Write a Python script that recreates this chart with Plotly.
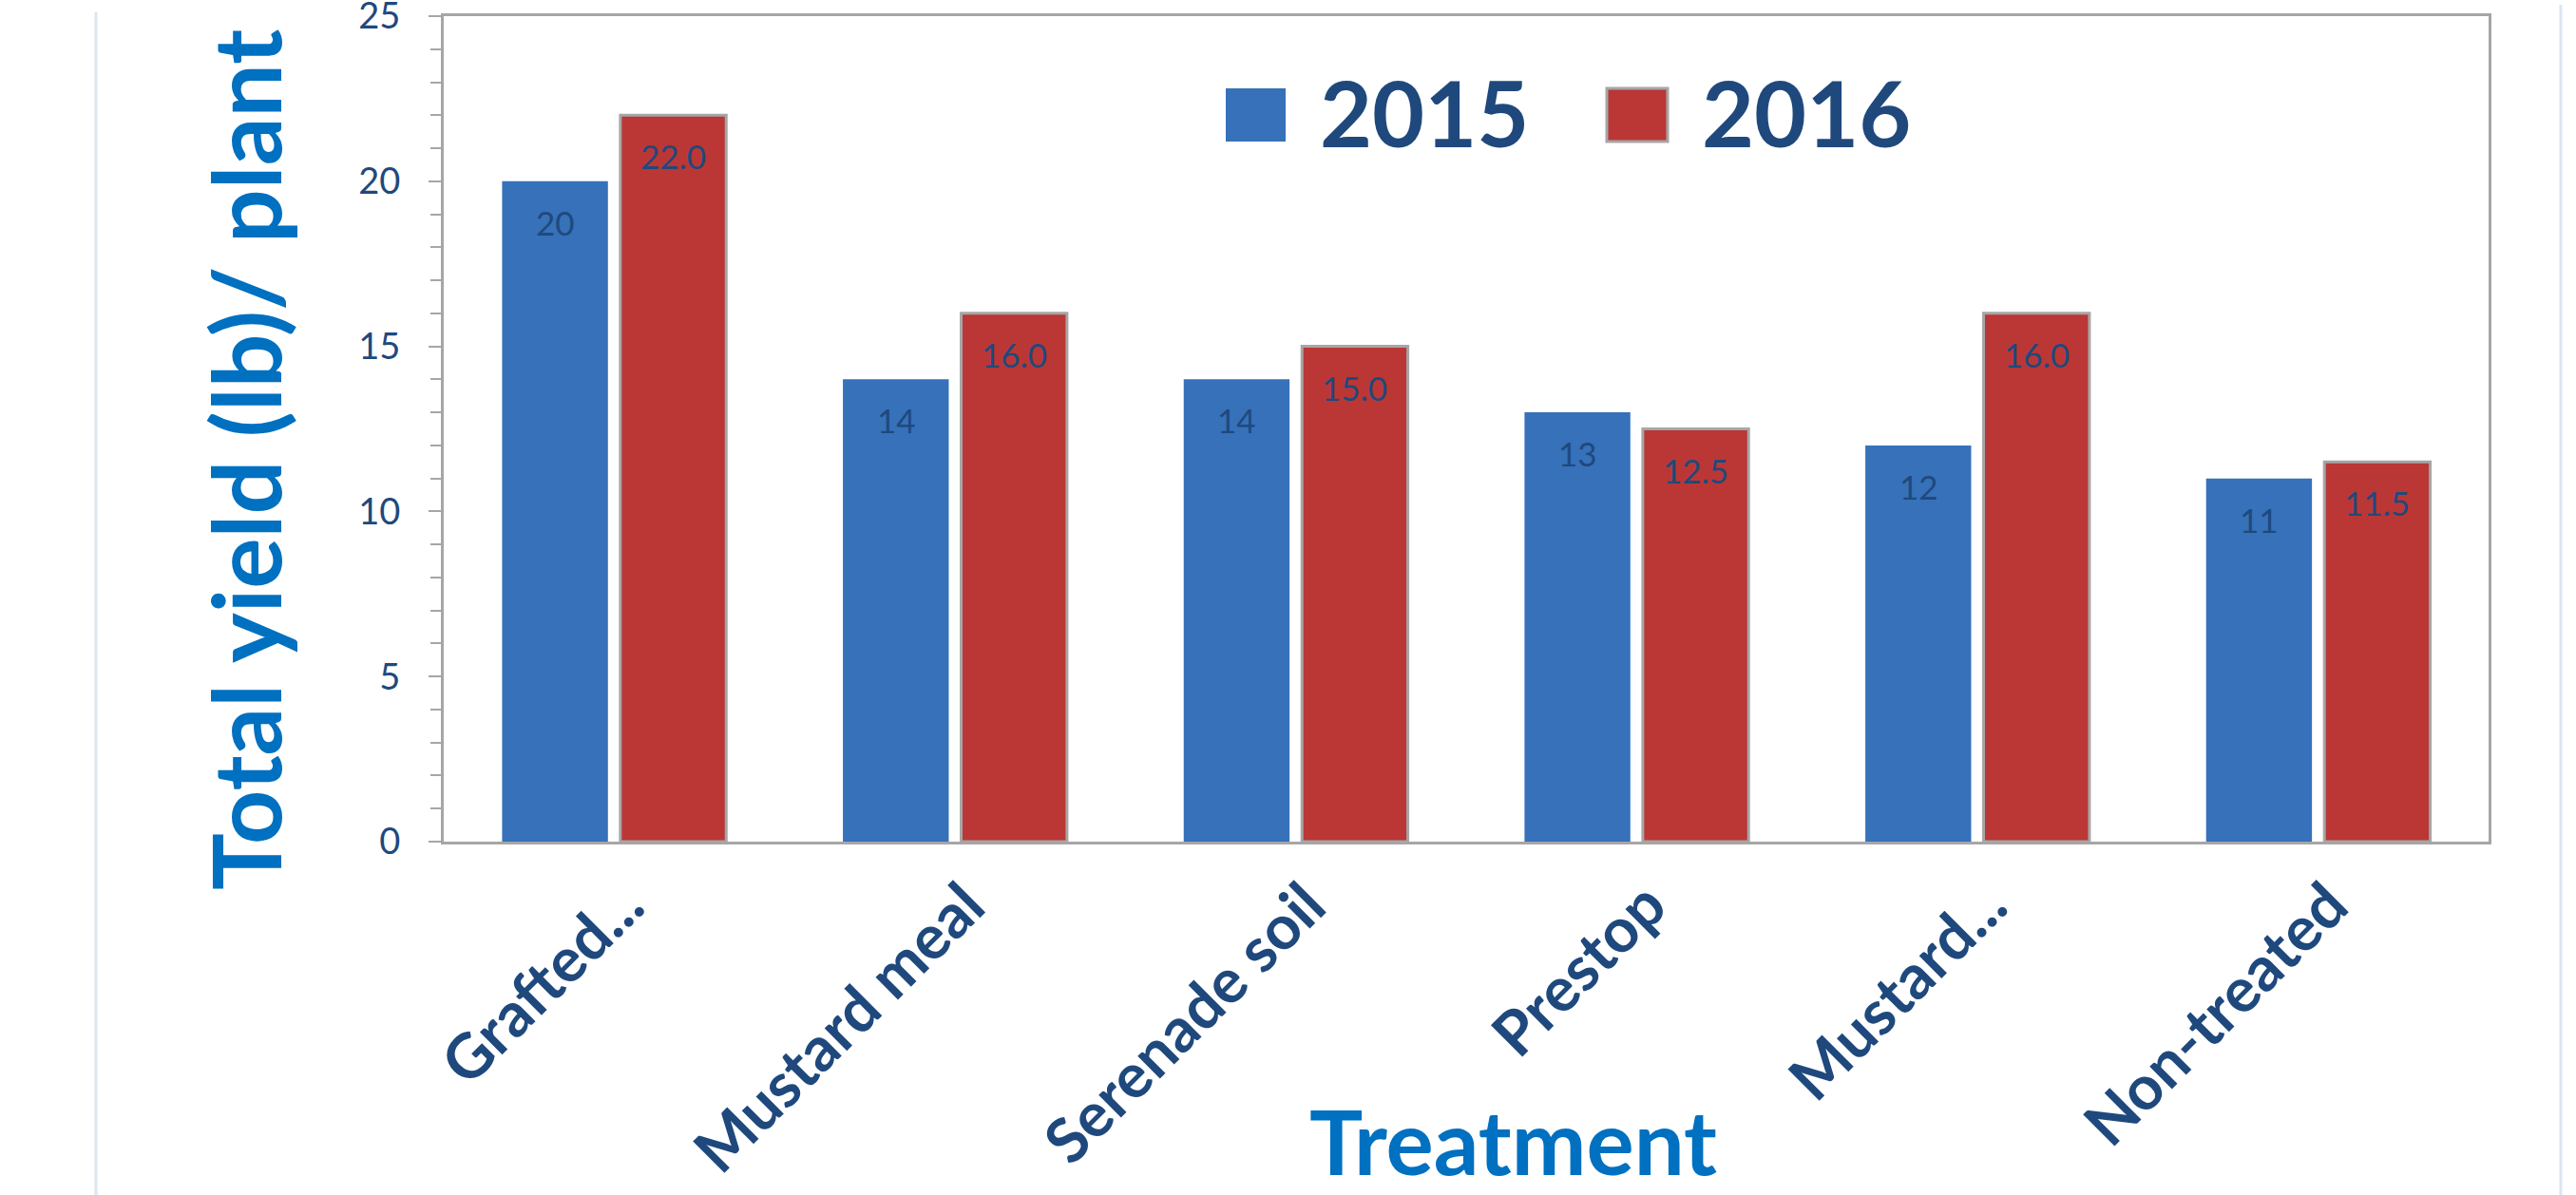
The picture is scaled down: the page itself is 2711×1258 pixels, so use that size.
import plotly.graph_objects as go

# ---- data ----
categories = ["Grafted...", "Mustard meal", "Serenade soil", "Prestop", "Mustard...", "Non-treated"]
series_names = ["2015", "2016"]
yield_2015 = [20, 14, 14, 13, 12, 11]
yield_2016 = [22.0, 16.0, 15.0, 12.5, 16.0, 11.5]
label_formats = ["{:.0f}", "{:.1f}"]
y_title = "Total yield (lb)/ plant"
x_title = "Treatment"

# ---- styles ----
W, H = 2711, 1258
ML, MR, MT, MB = 467, 92, 17, 372
PW = W - ML - MR
PH = H - MT - MB
FONT = "Lato, 'Open Sans', sans-serif"
DARK = "#1F497D"
TITLE_BLUE = "#0070C0"
GRAY = "#A6A6A6"
bar_colors = ["#3671BA", "#BA3735"]
bar_lines = [dict(width=0), dict(width=3, color=GRAY)]


def px_x(px):
    return (px - ML) / PW


def px_y(py):
    return (H - MB - py) / PH


fig = go.Figure()
series = [yield_2015, yield_2016]
for name, vals, col, ln in zip(series_names, series, bar_colors, bar_lines):
    fig.add_trace(go.Bar(
        x=categories, y=vals, name=name,
        marker=dict(color=col, line=ln),
        showlegend=False,
    ))

# data labels (inside, near top of each bar)
bar_offset = 62
annotations = []
for i, (vals, fmt) in enumerate(zip(series, label_formats)):
    shift = -bar_offset if i == 0 else bar_offset
    for c, v in zip(categories, vals):
        annotations.append(dict(
            x=c, y=v, xref="x", yref="y", text=fmt.format(v),
            showarrow=False, xshift=shift, yshift=-43,
            xanchor="center", yanchor="middle",
            font=dict(family=FONT, size=35, color=DARK),
        ))

# axis titles
annotations.append(dict(
    x=px_x(257), y=px_y(484), xref="paper", yref="paper", text=y_title,
    textangle=-90, showarrow=False, xanchor="center", yanchor="middle",
    font=dict(family=FONT, size=100, color=TITLE_BLUE, weight="bold"),
))
annotations.append(dict(
    x=px_x(1592), y=px_y(1200), xref="paper", yref="paper", text=x_title,
    showarrow=False, xanchor="center", yanchor="middle",
    font=dict(family=FONT, size=94, color=TITLE_BLUE, weight="bold"),
))

# custom legend
legend_text_x = [1499, 1901]
legend_box_x = [(1290, 1353), (1691, 1755)]
shapes = []
for name, col, ln, tx, (bx0, bx1) in zip(series_names, bar_colors, bar_lines, legend_text_x, legend_box_x):
    annotations.append(dict(
        x=px_x(tx), y=px_y(118), xref="paper", yref="paper", text=name,
        showarrow=False, xanchor="center", yanchor="middle",
        font=dict(family=FONT, size=95, color=DARK, weight="bold"),
    ))
    shapes.append(dict(
        type="rect", xref="paper", yref="paper",
        x0=px_x(bx0), x1=px_x(bx1), y0=px_y(149), y1=px_y(93),
        fillcolor=col, line=ln if ln.get("width") else dict(width=0),
    ))

# faint page border lines
shapes.append(dict(type="line", xref="paper", yref="paper",
                   x0=px_x(101), x1=px_x(101), y0=px_y(13), y1=px_y(H + 20),
                   line=dict(color="#DCE6F2", width=3)))
shapes.append(dict(type="line", xref="paper", yref="paper",
                   x0=px_x(2695), x1=px_x(2695), y0=px_y(5), y1=px_y(H + 20),
                   line=dict(color="#DCE6F2", width=3)))

fig.update_layout(
    width=W, height=H,
    margin=dict(l=ML, r=MR, t=MT, b=MB, pad=0, autoexpand=False),
    paper_bgcolor="white", plot_bgcolor="white",
    barmode="group", bargap=0.306, bargroupgap=0.105,
    annotations=annotations, shapes=shapes,
    showlegend=False,
)
fig.update_xaxes(
    type="category", range=[-0.5, len(categories) - 0.5],
    automargin=False,
    showline=True, linecolor=GRAY, linewidth=3, mirror=True,
    ticks="", showgrid=False, zeroline=False,
    tickangle=-45, ticklabelstandoff=0, ticklabelshift=12,
    tickfont=dict(family=FONT, size=65, color=DARK, weight="bold"),
)
fig.update_yaxes(
    range=[0, 25], dtick=5, tick0=0,
    automargin=False, ticklabeloverflow="allow",
    showline=True, linecolor=GRAY, linewidth=3, mirror=True,
    ticks="outside", ticklen=13, tickwidth=2, tickcolor=GRAY,
    minor=dict(dtick=1, ticks="outside", ticklen=11, tickwidth=2, tickcolor=GRAY),
    showgrid=False, zeroline=False,
    ticklabelstandoff=22,
    tickfont=dict(family=FONT, size=38, color=DARK),
)

fig.write_html("out.html", config={"displayModeBar": False},
               post_script="document.body.style.margin='0';")
